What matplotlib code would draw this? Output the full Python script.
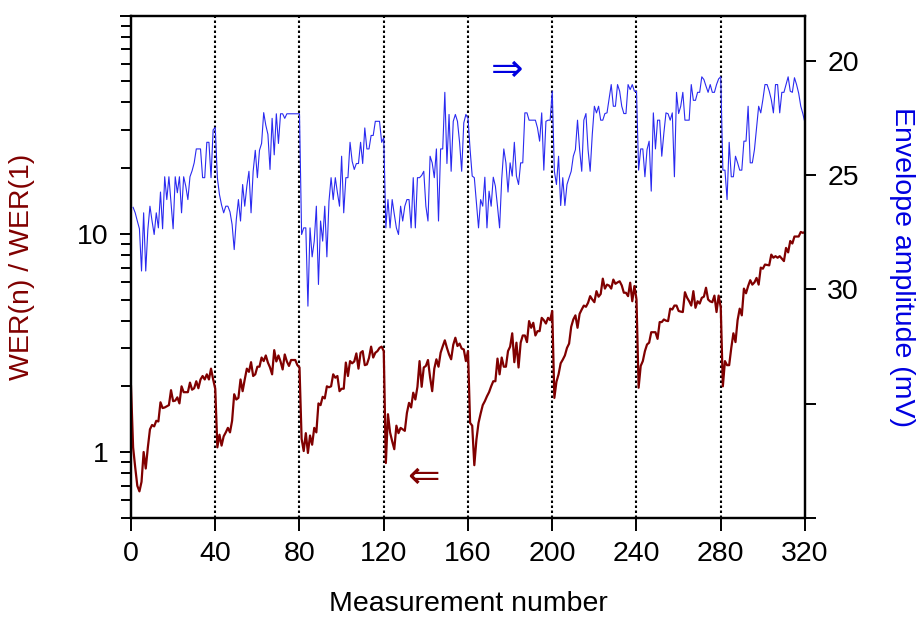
import numpy as np
import matplotlib.pyplot as plt
from matplotlib.ticker import NullFormatter, FixedLocator

plt.rcParams['font.family'] = ['Liberation Sans', 'DejaVu Sans']
plt.rcParams['font.size'] = 20.5

# WER(n)/WER(1), measurement 0..320, in blocks of 40 measurements
wer_start = [2.0]
wer_1 = [1.05, 0.85, 0.70, 0.66, 0.73, 1.0, 0.84, 1.05, 1.27, 1.33,
         1.31, 1.39, 1.38, 1.69, 1.59, 1.60, 1.62, 1.64, 1.92, 1.71,
         1.72, 1.78, 1.67, 2.0, 1.88, 1.88, 1.88, 2.08, 1.93, 1.96,
         2.11, 1.96, 2.15, 2.23, 2.15, 2.27, 2.15, 2.41, 2.15, 1.95]
wer_2 = [1.05, 1.2, 1.07, 1.18, 1.23, 1.29, 1.23, 1.39, 1.84, 1.74,
         1.77, 2.15, 1.9, 2.15, 2.41, 2.33, 2.58, 2.23, 2.27, 2.46,
         2.46, 2.71, 2.61, 2.77, 2.57, 2.44, 2.27, 2.93, 2.6, 2.77,
         2.6, 2.39, 2.80, 2.6, 2.48, 2.64, 2.64, 2.64, 2.50, 2.44]
wer_3 = [1.15, 1.01, 1.22, 0.99, 1.19, 1.08, 1.29, 1.23, 1.67, 1.64,
         1.79, 1.76, 2.0, 1.98, 2.0, 2.27, 2.19, 2.23, 1.90, 1.95,
         1.95, 2.57, 2.23, 2.61, 2.55, 2.6, 2.83, 2.41, 2.85, 2.90,
         2.50, 2.52, 2.7, 3.04, 2.71, 2.85, 2.9, 3.0, 3.04, 2.9]
wer_4 = [0.89, 1.49, 1.23, 1.12, 1.03, 1.32, 1.22, 1.29, 1.27, 1.25,
         1.51, 1.68, 1.60, 1.87, 1.74, 1.99, 2.61, 1.99, 2.44, 2.48,
         2.64, 2.2, 1.90, 2.41, 2.66, 2.46, 2.85, 3.05, 3.25, 3.0,
         2.8, 2.66, 3.1, 3.34, 3.06, 3.14, 2.98, 2.95, 2.61, 2.9]
wer_5 = [1.36, 1.32, 0.87, 1.14, 1.36, 1.5, 1.64, 1.71, 1.80, 1.88,
         2.0, 2.11, 2.11, 2.68, 2.27, 2.71, 2.46, 2.46, 2.90, 3.04,
         3.50, 2.58, 3.17, 2.44, 3.17, 3.42, 3.42, 3.19, 3.98, 3.71,
         3.91, 3.42, 3.58, 3.58, 4.12, 4.02, 3.88, 4.12, 4.02, 4.43]
wer_6 = [1.77, 2.1, 2.27, 2.55, 2.65, 2.77, 3.0, 3.14, 3.75, 4.05,
         4.23, 3.71, 4.3, 4.50, 4.69, 4.63, 4.83, 5.18, 5.0, 4.86,
         5.46, 5.15, 5.3, 6.23, 5.61, 5.85, 5.79, 5.61, 6.17, 5.90,
         5.99, 6.06, 5.8, 5.37, 5.37, 5.18, 5.97, 4.91, 5.76, 5.0]
wer_7 = [1.97, 2.48, 2.61, 2.9, 3.11, 3.17, 3.54, 3.54, 3.54, 3.30,
         3.94, 3.94, 4.05, 4.0, 3.98, 4.54, 4.5, 4.69, 4.69, 4.43,
         4.4, 4.38, 5.40, 5.1, 4.91, 4.69, 5.46, 4.58, 4.91, 4.79,
         5.09, 5.15, 5.66, 5.0, 4.9, 4.86, 5.21, 4.38, 5.21, 4.6]
wer_8 = [2.0, 2.61, 2.5, 2.5, 3.0, 3.50, 3.19, 4.02, 4.54, 4.23,
         5.61, 5.34, 5.76, 6.13, 5.85, 5.99, 6.28, 5.85, 7.0, 6.92,
         7.23, 7.2, 7.17, 8.03, 7.77, 7.9, 7.77, 7.9, 7.7, 7.5,
         8.62, 8.22, 9.27, 9.03, 9.72, 9.72, 9.72, 10.2, 10.1, 10.2]

# envelope amplitude (mV), measurement 1..320
env_1 = [26.4, 26.64, 27.0, 27.34, 29.19, 26.64, 29.19, 27.37, 26.35, 27.0,
         27.59, 26.64, 27.3, 25.73, 27.34, 25.06, 26.06, 25.06, 26.2, 27.34,
         25.06, 25.76, 25.06, 26.64, 25.06, 25.47, 26.06, 25.06, 24.8, 24.45,
         23.84, 23.84, 23.84, 25.1, 25.1, 23.55, 23.55, 25.1, 23.0, 22.9]
env_2 = [25.1, 25.84, 26.3, 26.64, 26.35, 26.35, 26.6, 27.15, 28.25, 26.93,
         26.06, 27.0, 25.4, 26.35, 25.47, 24.82, 26.64, 24.82, 23.9, 25.1,
         23.9, 23.6, 22.25, 22.8, 23.2, 24.74, 22.5, 24.1, 22.3, 23.6,
         22.3, 22.3, 22.5, 22.3, 22.3, 22.3, 22.3, 22.3, 22.3, 22.3]
env_3 = [27.59, 27.3, 27.3, 30.73, 27.3, 28.57, 27.88, 26.35, 29.78, 27.0,
         27.88, 26.35, 28.57, 26.13, 25.1, 26.06, 25.1, 25.76, 26.35, 24.16,
         26.64, 25.1, 25.1, 23.55, 24.38, 24.74, 24.48, 24.48, 23.55, 24.48,
         22.92, 23.84, 23.84, 23.25, 23.25, 22.63, 22.63, 22.63, 23.55, 23.35]
env_4 = [27.3, 26.06, 27.3, 26.06, 26.7, 27.3, 27.59, 26.35, 27.0, 26.35,
         26.06, 26.06, 27.3, 25.1, 27.3, 25.1, 25.1, 25.0, 24.82, 26.35,
         27.0, 24.16, 24.45, 25.1, 23.84, 27.0, 23.84, 23.84, 21.36, 24.48,
         22.33, 24.82, 22.63, 22.33, 22.63, 23.55, 24.82, 22.7, 22.33, 22.5]
env_5 = [23.87, 25.03, 25.1, 26.2, 27.3, 26.06, 26.35, 25.08, 27.3, 25.69,
         26.35, 25.08, 25.47, 26.35, 27.3, 25.18, 23.84, 24.45, 25.73, 24.45,
         25.03, 23.55, 25.03, 25.4, 24.45, 24.45, 22.26, 22.26, 22.58, 22.58,
         22.58, 22.58, 22.92, 23.5, 22.26, 24.77, 22.63, 22.58, 22.58, 21.31]
env_6 = [24.82, 25.4, 24.16, 26.32, 25.1, 26.32, 25.4, 25.1, 24.82, 24.16,
         23.87, 22.58, 23.87, 24.82, 22.58, 22.29, 23.87, 24.82, 23.21, 21.97,
         22.26, 21.97, 22.58, 22.58, 22.29, 22.26, 21.65, 21.02, 21.97, 21.97,
         21.02, 21.31, 21.97, 22.29, 22.29, 21.02, 21.24, 21.02, 21.31, 21.31]
env_7 = [24.77, 23.84, 23.84, 25.06, 23.87, 23.5, 25.69, 22.26, 23.84, 22.58,
         22.58, 24.16, 23.14, 22.26, 22.3, 22.58, 22.26, 25.06, 21.36, 22.29,
         21.97, 21.36, 22.58, 22.58, 22.58, 21.02, 21.71, 21.71, 21.36, 21.36,
         20.68, 20.8, 21.09, 21.36, 21.02, 21.36, 21.36, 21.02, 20.77, 20.68]
env_8 = [24.77, 24.77, 26.06, 23.55, 25.06, 25.06, 24.16, 24.45, 24.77, 24.77,
         23.5, 23.5, 21.97, 24.45, 24.45, 23.87, 22.9, 21.97, 22.26, 21.68,
         21.02, 21.02, 21.3, 21.68, 22.26, 21.02, 21.02, 22.26, 21.36, 21.36,
         21.02, 20.68, 21.31, 21.36, 20.72, 21.02, 21.4, 21.97, 22.3, 22.7]

wer = np.array(wer_start + wer_1 + wer_2 + wer_3 + wer_4 + wer_5 + wer_6 + wer_7 + wer_8)
env = np.array(env_1 + env_2 + env_3 + env_4 + env_5 + env_6 + env_7 + env_8)
n_wer = np.arange(len(wer))
n_env = np.arange(1, len(env) + 1)

x_ticks = [0, 40, 80, 120, 160, 200, 240, 280, 320]
block_edges = [40, 80, 120, 160, 200, 240, 280]

red = '#800000'
blue = '#2a2af0'
blue_text = '#0000e0'

fig = plt.figure(figsize=(9.18, 6.19), dpi=100)
ax = fig.add_axes([0.1427, 0.1637, 0.7342, 0.811])
ax2 = ax.twinx()

for x in block_edges:
    ax.axvline(x, color='black', linestyle=(0, (1.2, 1.2)), linewidth=1.5, zorder=1)

ax.plot(n_wer, wer, color=red, linewidth=1.6, zorder=3)
ax2.plot(n_env, env, color=blue, linewidth=0.8)

# left axis: log scale
ax.set_yscale('log')
ax.set_ylim(0.5, 100)
ax.set_xlim(0, 320)
ax.yaxis.set_major_locator(FixedLocator([1, 10, 100]))
ax.set_yticklabels(['1', '10', ''])
ax.yaxis.set_minor_formatter(NullFormatter())
ax.set_xticks(x_ticks)

# right axis: inverted amplitude
ax2.set_ylim(40, 18)
ax2.set_yticks([20, 25, 30, 35, 40])
ax2.set_yticklabels(['20', '25', '30', '', ''])

for a in (ax, ax2):
    for s in a.spines.values():
        s.set_linewidth(1.6)
ax.tick_params(axis='y', which='major', direction='out', length=8, width=1.4, pad=8)
ax.tick_params(axis='y', which='minor', direction='out', length=7, width=1.4)
ax.tick_params(axis='x', direction='out', length=9, width=1.4, pad=8)
ax2.tick_params(axis='y', direction='out', length=8, width=1.4, pad=8)

ax.set_xlabel('Measurement number', labelpad=17)
ax.set_ylabel('WER(n) / WER(1)', color=red, labelpad=30)
ax2.set_ylabel('Envelope amplitude (mV)', color=blue_text, rotation=-90, labelpad=40)

ax2.text(178.5, 20.36, '\u21d2', color=blue_text, fontsize=28, family='DejaVu Sans',
         ha='center', va='center')
ax.text(139, 0.766, '\u21d0', color=red, fontsize=28, family='DejaVu Sans',
        ha='center', va='center')

fig.savefig('out.png', dpi=100)
